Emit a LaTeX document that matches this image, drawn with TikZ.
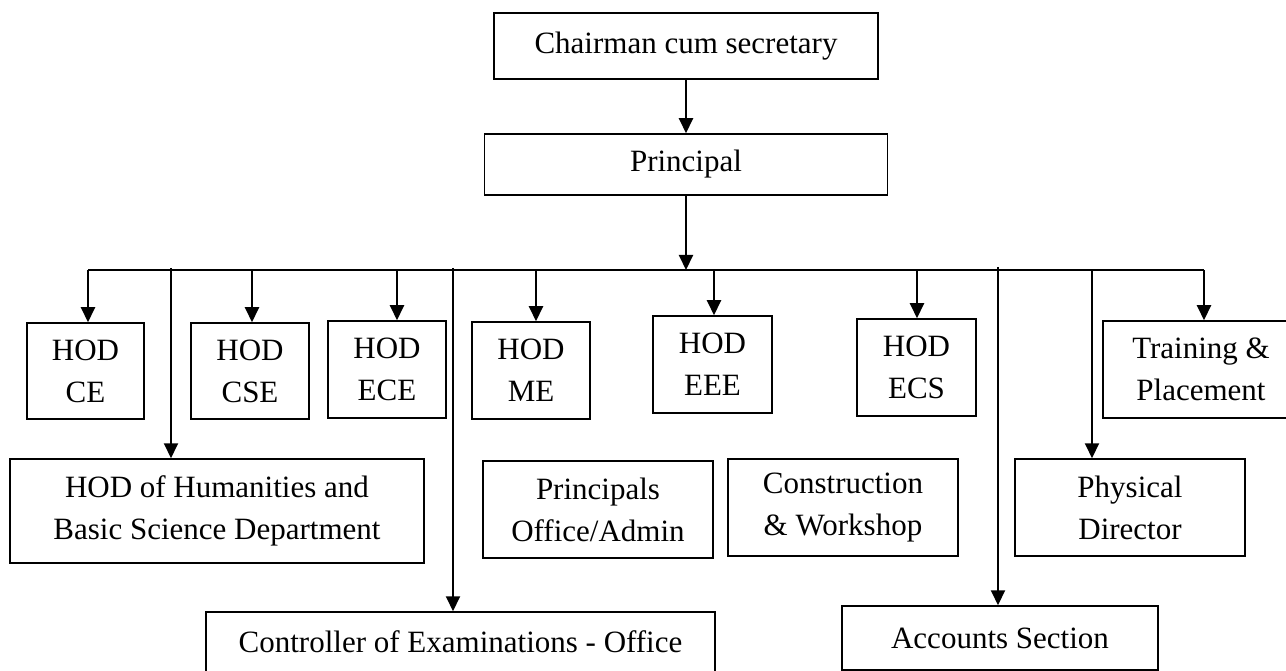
\documentclass[tikz,border=0pt]{standalone}
\usepackage{fontspec}
\setmainfont{Liberation Serif}
\usetikzlibrary{arrows.meta}
\begin{document}
\begin{tikzpicture}[x=1pt,y=-1pt,
  box/.style={draw,line width=1.5pt,align=center,inner sep=0pt,font=\fontsize{31}{42}\selectfont},
  conn/.style={line width=2pt},
  arr/.style={conn,-{Triangle[width=14pt,length=15pt]}}]
\useasboundingbox (0,0) rectangle (1286,671);
\clip (0,0) rectangle (1286,671);
% top
\node[box,minimum width=384,minimum height=66] (chair) at (686,46) {Chairman cum secretary};
\node[box,minimum width=403,minimum height=61] (princ) at (686,164.5) {Principal};
% first row
\node[box,minimum width=117,minimum height=96] (ce) at (85.5,371) {HOD\\CE};
\node[box,minimum width=118,minimum height=96] (cse) at (250,371) {HOD\\CSE};
\node[box,minimum width=118,minimum height=97] (ece) at (387,369.5) {HOD\\ECE};
\node[box,minimum width=118,minimum height=97] (me) at (531,370.5) {HOD\\ME};
\node[box,minimum width=119,minimum height=97] (eee) at (712.5,364.5) {HOD\\EEE};
\node[box,minimum width=119,minimum height=97] (ecs) at (916.5,367.5) {HOD\\ECS};
\node[box,minimum width=196,minimum height=97] (tp) at (1201,369.5) {Training \&\\Placement};
% second row
\node[box,minimum width=414,minimum height=104] (hum) at (217,511) {HOD of Humanities and\\Basic Science Department};
\node[box,minimum width=230,minimum height=97] (po) at (598,509.5) {Principals\\Office/Admin};
\node[box,minimum width=230,minimum height=97] (cw) at (843,507.5) {Construction\\\& Workshop};
\node[box,minimum width=230,minimum height=97] (pd) at (1130,507.5) {Physical\\Director};
% third row
\node[box,minimum width=509,minimum height=60] (coe) at (460.5,642) {Controller of Examinations - Office};
\node[box,minimum width=316,minimum height=64] (acc) at (1000,638) {Accounts Section};
% bus coordinates
\coordinate (bL) at (88,270);
\coordinate (bR) at (1204,270);
\coordinate (bce) at (88,270);
\coordinate (bhum) at (171,268);
\coordinate (bcse) at (252,270);
\coordinate (bece) at (397,270);
\coordinate (bcoe) at (453,268);
\coordinate (bme) at (536,270);
\coordinate (beee) at (714,270);
\coordinate (becs) at (917,270);
\coordinate (bacc) at (998,267);
\coordinate (bpd) at (1092,270);
\coordinate (btp) at (1204,270);
% connectors
\draw[arr] (chair.south) -- (princ.north);
\draw[conn] (bL) -- (bR);
\draw[arr] (princ.south) -- (princ.south |- bL);
\draw[arr] (bce) -- (ce.north -| bce);
\draw[arr] (bhum) -- (hum.north -| bhum);
\draw[arr] (bcse) -- (cse.north -| bcse);
\draw[arr] (bece) -- (ece.north -| bece);
\draw[arr] (bcoe) -- (coe.north -| bcoe);
\draw[arr] (bme) -- (me.north -| bme);
\draw[arr] (beee) -- (eee.north -| beee);
\draw[arr] (becs) -- (ecs.north -| becs);
\draw[arr] (bacc) -- (acc.north -| bacc);
\draw[arr] (bpd) -- (pd.north -| bpd);
\draw[arr] (btp) -- (tp.north -| btp);
\end{tikzpicture}
\end{document}
